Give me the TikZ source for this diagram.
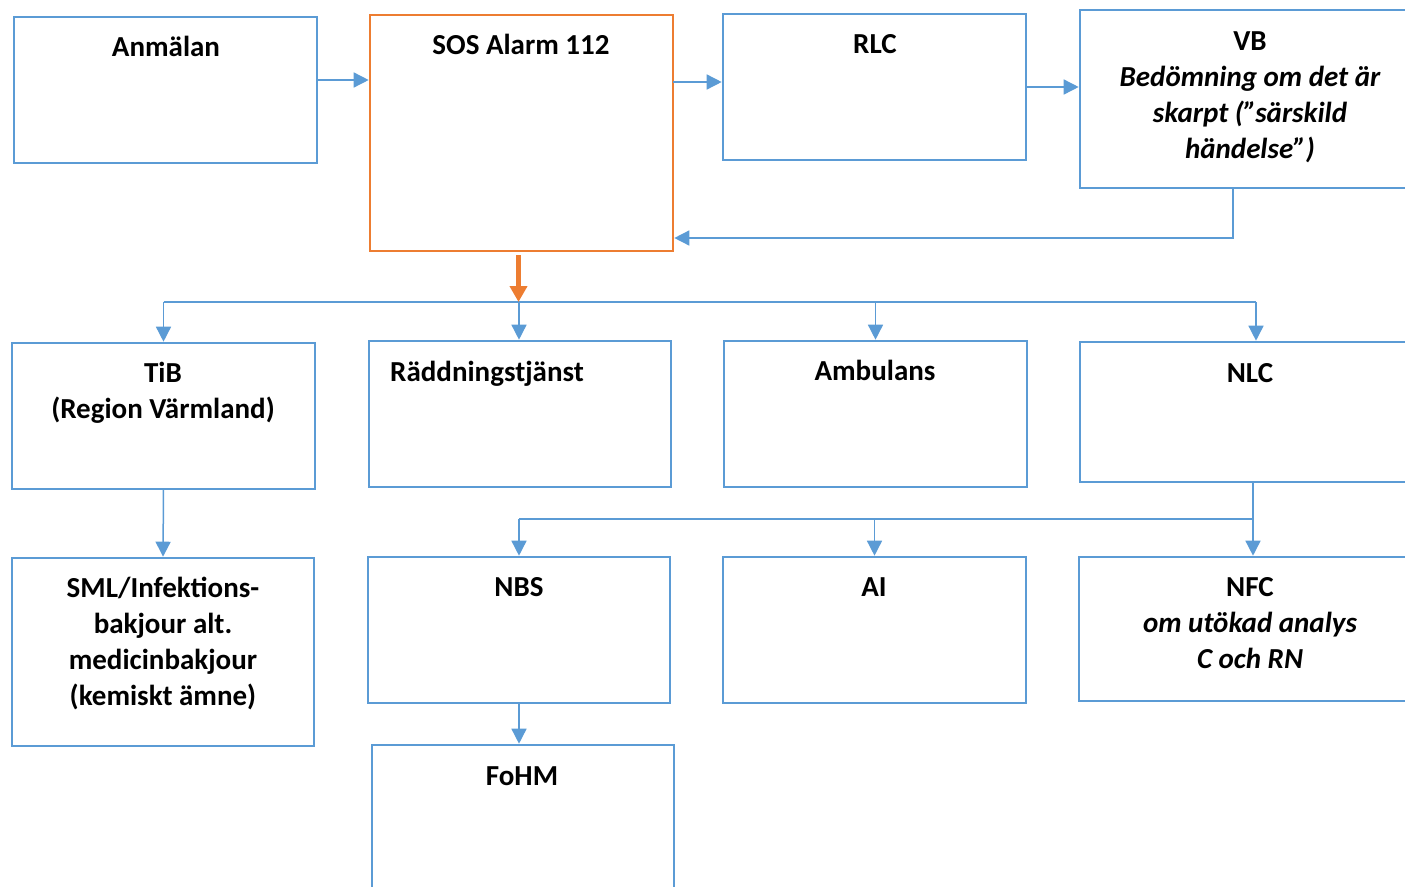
\documentclass[tikz,border=0pt]{standalone}
\usepackage{fontspec}
\setmainfont{Carlito}
\usetikzlibrary{arrows.meta}
\definecolor{bl}{HTML}{5B9BD5}
\definecolor{og}{HTML}{ED7D31}
\tikzset{
  box/.style={draw=bl, line width=2.6pt, inner sep=0pt, outer sep=0pt, anchor=north west, fill=white},
  obox/.style={box, draw=og},
  txt/.style={font=\fontsize{29}{36}\selectfont\bfseries, align=center, anchor=base, inner sep=0pt},
  line/.style={draw=bl, line width=1.5pt},
  conn/.style={line, -{Triangle[length=15pt,width=15pt]}, shorten >=1.3pt},
  oconn/.style={draw=og, line width=4.5pt, -{Triangle[length=16pt,width=17pt]}}
}
\begin{document}
\begin{tikzpicture}[x=1pt,y=-1pt]
\useasboundingbox (0,0) rectangle (1405,886);
% boxes
\node[box, minimum width=303pt, minimum height=146pt] (anm) at (14,17) {};
\node[obox, minimum width=303pt, minimum height=236pt] (sos) at (370,15) {};
\node[box, minimum width=303pt, minimum height=146pt] (rlc) at (723,14) {};
\node[box, minimum width=340pt, minimum height=178pt] (vb) at (1080,10) {};
\node[box, minimum width=303pt, minimum height=146pt] (tib) at (12,343) {};
\node[box, minimum width=302pt, minimum height=146pt] (rad) at (369,341) {};
\node[box, minimum width=303pt, minimum height=146pt] (amb) at (724,341) {};
\node[box, minimum width=340pt, minimum height=140pt] (nlc) at (1080,342) {};
\node[box, minimum width=302pt, minimum height=188pt] (sml) at (12,558) {};
\node[box, minimum width=302pt, minimum height=146pt] (nbs) at (368,557) {};
\node[box, minimum width=303pt, minimum height=146pt] (ai) at (723,557) {};
\node[box, minimum width=340pt, minimum height=144pt] (nfc) at (1079,557) {};
\node[box, minimum width=302pt, minimum height=150pt] (fohm) at (372,745) {};
% texts (anchor=base is the baseline of the last line)
\node[txt] (anm-t) at (166,56.5) {Anmälan};
\node[txt] (sos-t) at (521,54.5) {SOS Alarm 112};
\node[txt] (rlc-t) at (875,53.5) {RLC};
\node[txt] (vb-t) at (1250,158.5) {VB\\\itshape Bedömning om det är\\\itshape skarpt (”särskild\\\itshape händelse”)};
\node[txt] (tib-t) at (163,418.5) {TiB\\(Region Värmland)};
\node[txt, anchor=base west] (rad-t) at (390,381.5) {Räddningstjänst};
\node[txt] (amb-t) at (875,380.5) {Ambulans};
\node[txt] (nlc-t) at (1250,382.5) {NLC};
\node[txt] (sml-t) at (163,705.5) {SML/Infektions-\\bakjour alt.\\medicinbakjour\\(kemiskt ämne)};
\node[txt] (nbs-t) at (519,596.5) {NBS};
\node[txt] (ai-t) at (874,596.5) {AI};
\node[txt] (nfc-t) at (1250,668.5) {NFC\\\itshape om utökad analys\\\itshape C och RN};
\node[txt] (fohm-t) at (522,785.5) {FoHM};
% connectors top row
\draw[conn] ([yshift=10pt]anm.east) coordinate (a1) -- (a1 -| sos.west);
\draw[conn] ([yshift=5pt]rlc.west -| sos.east) -- ([yshift=5pt]rlc.west);
\draw[conn] (rlc.east) -- (rlc.east -| vb.west);
\draw[conn] ([xshift=-17pt]vb.south) |- ([yshift=13pt]sos.south east);
% bus 1
\coordinate (busy) at (0,302);
\draw[line] (tib.north |- busy) -- ([xshift=6pt]nlc.north |- busy);
\draw[conn] (tib.north |- busy) -- (tib.north);
\draw[conn] ([xshift=-1pt]rad.north |- busy) -- ([xshift=-1pt]rad.north);
\draw[conn] (amb.north |- busy) -- (amb.north);
\draw[conn] ([xshift=6pt]nlc.north |- busy) -- ([xshift=6pt]nlc.north);
\draw[oconn] ([xshift=-3pt,yshift=-4pt]sos.south) -- ([xshift=-3pt]sos.south |- busy);
% lower
\draw[conn] (tib.south) -- (sml.north);
\coordinate (bus2) at (0,519);
\draw[line] (nbs.north |- bus2) -- ([xshift=3pt]nlc.south |- bus2);
\draw[conn] ([xshift=3pt]nlc.south) -- ([xshift=3pt]nlc.south |- nfc.north);
\draw[conn] (nbs.north |- bus2) -- (nbs.north);
\draw[conn] (ai.north |- bus2) -- (ai.north);
\draw[conn] (nbs.south) -- (nbs.south |- fohm.north);
\end{tikzpicture}
\end{document}
